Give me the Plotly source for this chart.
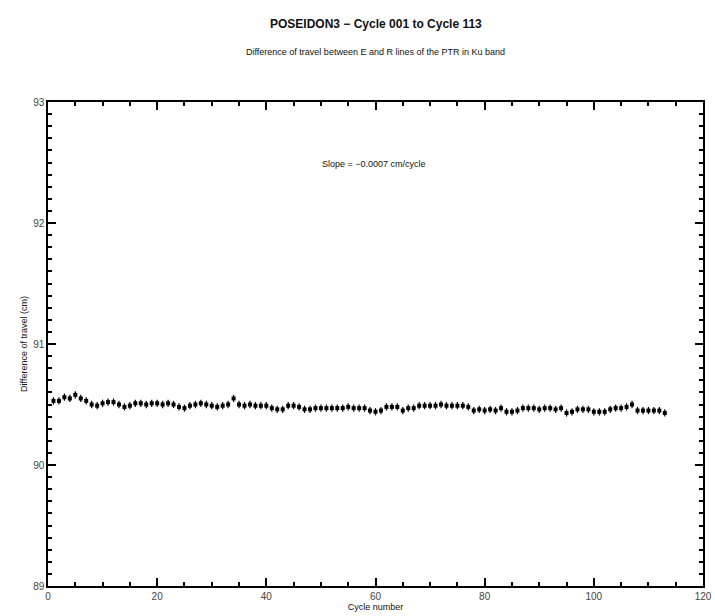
import plotly.graph_objects as go

cycles = list(range(1, 114))
diff_travel = [
    90.53, 90.53, 90.56, 90.55, 90.58, 90.55, 90.53, 90.50, 90.49, 90.51,
    90.52, 90.52, 90.50, 90.48, 90.49, 90.51, 90.51, 90.50, 90.51, 90.51,
    90.50, 90.51, 90.50, 90.48, 90.47, 90.49, 90.50, 90.51, 90.50, 90.49,
    90.48, 90.49, 90.50, 90.55, 90.50, 90.49, 90.50, 90.49, 90.49, 90.49,
    90.47, 90.46, 90.46, 90.49, 90.49, 90.48, 90.46, 90.46, 90.47, 90.47,
    90.47, 90.47, 90.47, 90.47, 90.48, 90.47, 90.47, 90.47, 90.45, 90.44,
    90.45, 90.48, 90.48, 90.48, 90.45, 90.47, 90.47, 90.49, 90.49, 90.49,
    90.49, 90.50, 90.49, 90.49, 90.49, 90.49, 90.48, 90.45, 90.46, 90.45,
    90.46, 90.45, 90.47, 90.44, 90.44, 90.45, 90.47, 90.47, 90.47, 90.46,
    90.47, 90.47, 90.46, 90.47, 90.43, 90.44, 90.46, 90.46, 90.46, 90.44,
    90.44, 90.44, 90.46, 90.47, 90.47, 90.48, 90.50, 90.45, 90.45, 90.45,
    90.45, 90.45, 90.43,
]
err = [0.03] * len(cycles)

title_text = "POSEIDON3 \u2212 Cycle 001 to Cycle 113"
subtitle_text = "Difference of travel between E and R lines of the PTR in Ku band"
slope_text = "Slope = \u22120.0007 cm/cycle"
x_title = "Cycle number"
y_title = "Difference of travel (cm)"

fig = go.Figure()
fig.add_trace(go.Scatter(
    x=cycles, y=diff_travel, mode="markers",
    marker=dict(symbol="square", size=4, color="black"),
    error_y=dict(type="data", array=err, visible=True, color="black", thickness=1.2, width=0),
    showlegend=False,
))

font_family = "Liberation Sans, Arial, sans-serif"
T, B = 102, 30
ph = 616 - T - B
fig.update_layout(
    width=715, height=616,
    margin=dict(l=48, r=3, t=T, b=B),
    paper_bgcolor="white", plot_bgcolor="white",
    font=dict(family=font_family, color="#222"),
    annotations=[
        dict(text="<b>" + title_text + "</b>", x=0.5, y=1 + (T - 15) / ph, xref="paper", yref="paper",
             showarrow=False, font=dict(size=12, color="#111")),
        dict(text=subtitle_text, x=0.5, y=1 + (T - 45) / ph, xref="paper", yref="paper",
             showarrow=False, font=dict(size=9, color="#111")),
        dict(text=slope_text, x=0.497, y=0.886, xref="paper", yref="paper",
             showarrow=False, font=dict(size=9, color="#111")),
    ],
)

fig.update_xaxes(
    range=[0, 120], tickmode="linear", tick0=0, dtick=20,
    ticks="inside", ticklen=8, tickcolor="black", tickwidth=1.5,
    showline=True, linecolor="black", linewidth=1.5, mirror="ticks",
    showgrid=False, zeroline=False, ticklabeloverflow="allow",
    tickfont=dict(size=10, color="#444"),
    minor=dict(dtick=5, ticks="inside", ticklen=4, tickcolor="black", tickwidth=1.5, showgrid=False),
    title=dict(text=x_title, font=dict(size=9, color="#111"), standoff=2),
)
fig.update_yaxes(
    range=[89, 93], tickmode="linear", tick0=89, dtick=1,
    ticks="inside", ticklen=8, tickcolor="black", tickwidth=1.5,
    showline=True, linecolor="black", linewidth=1.5, mirror="ticks",
    showgrid=False, zeroline=False,
    tickfont=dict(size=10, color="#444"),
    minor=dict(dtick=0.1, ticks="inside", ticklen=4, tickcolor="black", tickwidth=1.5, showgrid=False),
    title=dict(text=y_title, font=dict(size=9, color="#111"), standoff=4),
)

fig.write_html("out.html")
